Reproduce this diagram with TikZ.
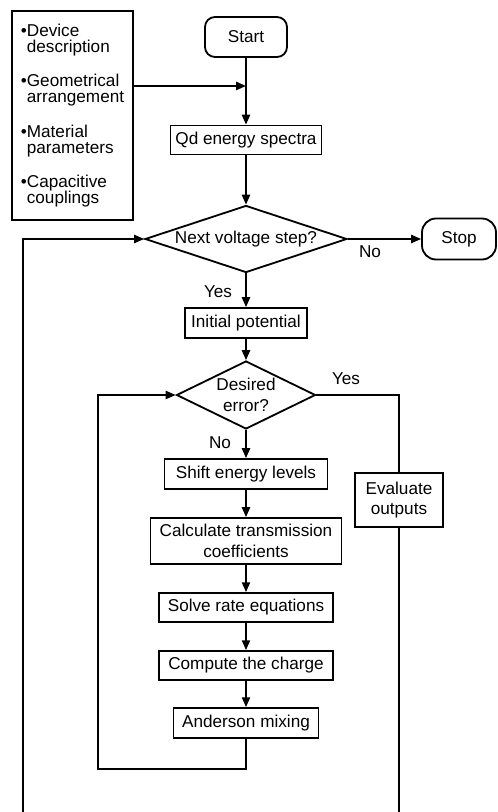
\documentclass[tikz,border=0pt]{standalone}
\usepackage{fontspec}
\setmainfont{Liberation Sans}
\usetikzlibrary{positioning, shapes.geometric, arrows.meta, calc}

\begin{document}
\begin{tikzpicture}[
  font=\fontsize{12.2}{14.8}\selectfont,
  box/.style={draw, line width=1.3pt, minimum height=0.75cm, inner sep=2pt, align=center},
  term/.style={draw, line width=1.3pt, minimum height=1cm},
  decision/.style={draw, diamond, line width=1.3pt, inner sep=0pt, align=center},
  arrow/.style={-{Triangle[length=7pt,width=5.8pt]}, line width=1.3pt},
  link/.style={line width=1.3pt}
]
  \useasboundingbox (-6.15,0) rectangle (6.3,-20.3);

  % outer column: set-up and voltage sweep
  \node[term, rounded corners=0.25cm, minimum width=2.05cm] (start) at (0,-0.925) {Start};
  \node[box, minimum width=3.025cm, minimum height=5.225cm, align=left,
        font=\fontsize{12.2}{11.5}\selectfont] (input) at (-4.3375,-2.8875)
    {•Device\\\phantom{•}description\\[12.8pt]
     •Geometrical\\\phantom{•}arrangement\\[12.8pt]
     •Material\\\phantom{•}parameters\\[12.8pt]
     •Capacitive\\\phantom{•}couplings};
  \node[box, minimum width=3.775cm, minimum height=0.725cm] (qd) at (0,-3.5) {Qd energy spectra};
  \node[decision, aspect=3, minimum width=5.05cm, minimum height=1.675cm] (vstep) at (0,-5.975) {Next voltage step?};
  \node[term, rounded corners=0.35cm, minimum width=1.85cm, minimum height=1.025cm] (stop) at (5.325,-5.975) {Stop};
  \node[box, minimum width=3.05cm] (init) at (0,-8.075) {Initial potential};

  % inner self-consistent loop
  \node[decision, aspect=2, minimum width=3.475cm, minimum height=1.7cm] (err) at (0,-9.875) {Desired\\error?};
  \node[box, minimum width=4.075cm] (shift) at (0,-11.85) {Shift energy levels};
  \node[box, minimum width=4.775cm, minimum height=1.15cm] (trans) at (0,-13.525) {Calculate transmission\\coefficients};
  \node[box, minimum width=4.35cm, minimum height=0.725cm] (rate) at (0,-15.1875) {Solve rate equations};
  \node[box, minimum width=4.35cm, minimum height=0.725cm] (charge) at (0,-16.6375) {Compute the charge};
  \node[box, minimum width=3.625cm] (mix) at (0,-18.075) {Anderson mixing};
  \node[box, minimum width=2.2cm, minimum height=1.35cm] (eval) at (3.825,-12.5) {Evaluate\\outputs};

  \coordinate (merge) at (0,-2.15);
  \coordinate (inner) at (-3.7,-19.225);
  \coordinate (outL) at (-5.575,-20.3);
  \coordinate (outR) at (3.825,-20.3);

  \draw[arrow] (start) -- (qd);
  \draw[arrow] (input.east |- merge) -- (merge);
  \draw[arrow] (qd) -- (vstep);
  \draw[arrow] (vstep) -- (stop);
  \draw[arrow] (vstep) -- (init);
  \draw[arrow] (init) -- (err);
  \draw[arrow] (err) -- (shift);
  \draw[arrow] (shift) -- (trans);
  \draw[arrow] (trans) -- (rate);
  \draw[arrow] (rate) -- (charge);
  \draw[arrow] (charge) -- (mix);
  \draw[arrow] (mix.south) |- (inner) |- (err.west);
  \draw[link] (err.east) -| (eval.north);
  \draw[link] (eval.south) -- (outR);
  \draw[arrow] (outL) |- (vstep.west);

  \node at (3.1,-6.3) {No};
  \node at (-0.7,-7.3) {Yes};
  \node at (2.5,-9.475) {Yes};
  \node at (-0.65,-11.075) {No};
\end{tikzpicture}
\end{document}
